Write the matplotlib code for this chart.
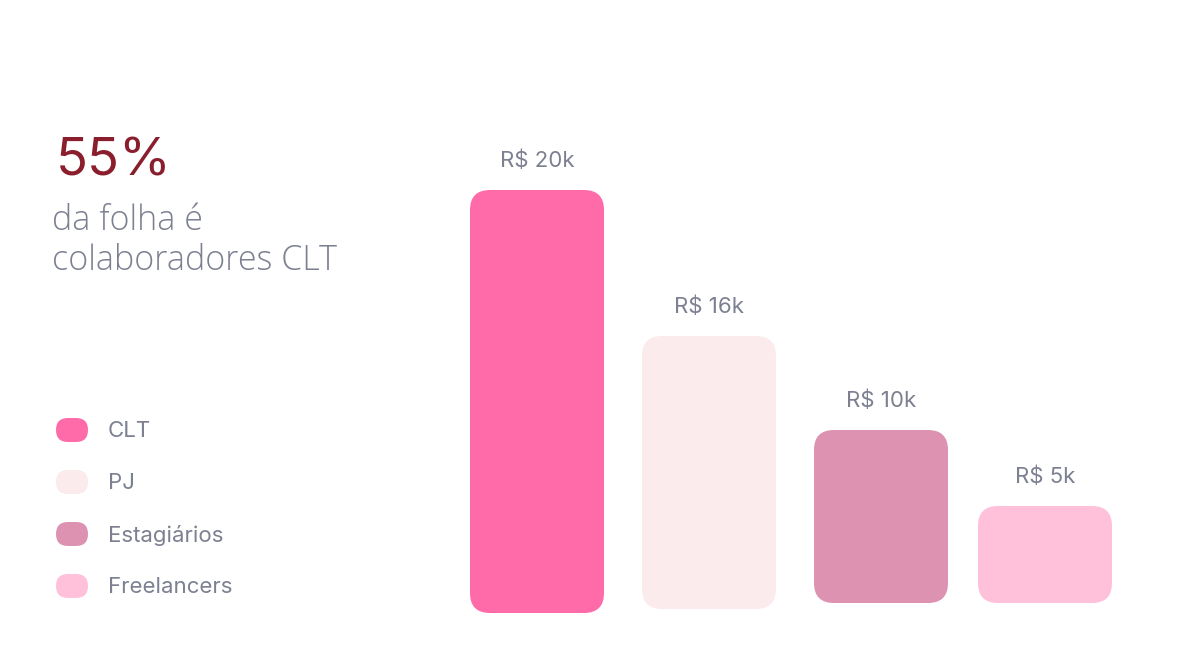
import matplotlib
matplotlib.use("Agg")
import matplotlib.pyplot as plt
from matplotlib.patches import FancyBboxPatch

# dados
categories = ["CLT", "PJ", "Estagiários", "Freelancers"]
value_labels = ["R$ 20k", "R$ 16k", "R$ 10k", "R$ 5k"]
bar_heights = [423, 273, 173, 97]       # altura (px)
bar_lift = [0, 4, 10, 10]               # base um pouco acima em alguns
colors = ["#FF6AA8", "#FCEBED", "#DC92B0", "#FFC1D9"]

headline = "55%"
subtitle_lines = ["da folha é", "colaboradores CLT"]

# layout
W, H = 1192, 667
bar_left = [470, 642, 814, 978]
bar_width = 134
baseline = 613
gray = "#7C8090"

plt.rcParams["font.family"] = ["Inter", "DejaVu Sans"]

fig = plt.figure(figsize=(W / 100, H / 100), dpi=100)
ax = fig.add_axes([0, 0, 1, 1])
ax.set_xlim(0, W)
ax.set_ylim(H, 0)
ax.axis("off")

# barras arredondadas
for x0, h, lift, c, lab in zip(bar_left, bar_heights, bar_lift, colors, value_labels):
    bottom = baseline - lift
    top = bottom - h
    ax.add_patch(FancyBboxPatch((x0, top), bar_width, h,
                                boxstyle="round,pad=0,rounding_size=20",
                                fc=c, ec="none"))
    ax.text(x0 + bar_width / 2, top - 23, lab, ha="center", va="baseline",
            fontsize=16, color=gray)

# texto da esquerda
ax.text(56, 175, headline, fontsize=38, color="#8B1E2D", va="baseline")
for i, line in enumerate(subtitle_lines):
    ax.text(52, 230 + 40 * i, line, fontsize=24.5, color=gray, va="baseline",
            family=["Open Sans", "DejaVu Sans"], fontweight="light")

# legenda
for i, (cat, c) in enumerate(zip(categories, colors)):
    yc = 430 + 52 * i
    ax.add_patch(FancyBboxPatch((56, yc - 12), 32, 24,
                                boxstyle="round,pad=0,rounding_size=12",
                                fc=c, ec="none"))
    ax.text(108, yc + 1, cat, fontsize=16, color=gray, va="center")

fig.savefig("out.png", dpi=100, facecolor="white")
